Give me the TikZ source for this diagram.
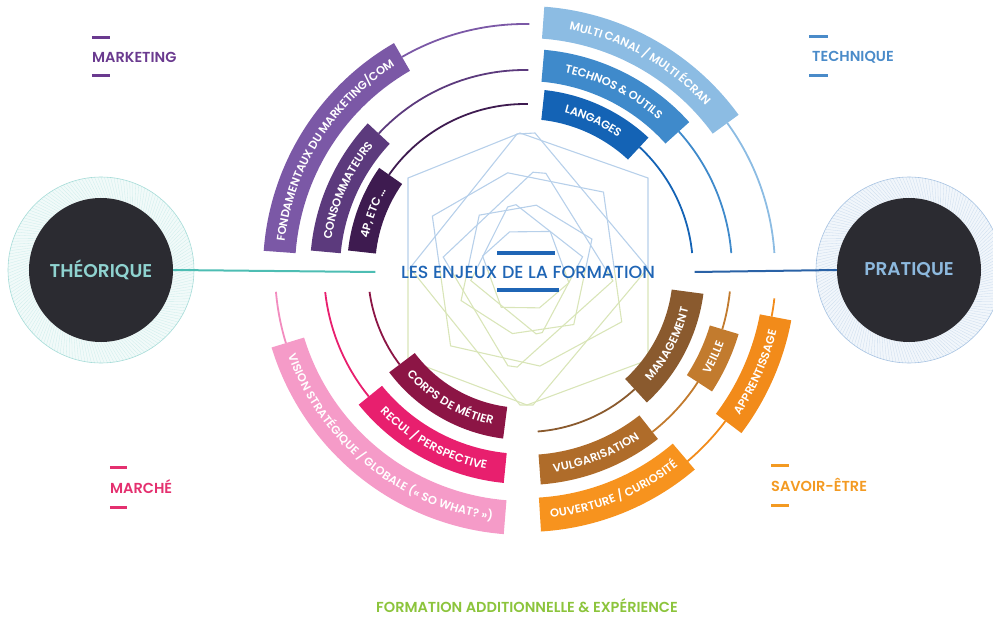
\documentclass[tikz,border=0pt]{standalone}
\usepackage{fontspec}
\setmainfont{Poppins}
\IfFontExistsTF{Poppins Medium}
  {\newfontfamily\medfont{Poppins Medium}}
  {\newcommand{\medfont}{\bfseries}}
\IfFontExistsTF{Poppins SemiBold}
  {\newfontfamily\semifont{Poppins SemiBold}}
  {\newcommand{\semifont}{\bfseries}}
\usetikzlibrary{calc,decorations.text,positioning}

\definecolor{mkA}{HTML}{7B58A6}
\definecolor{mkB}{HTML}{5C3A7D}
\definecolor{mkC}{HTML}{3E1B50}
\definecolor{mkT}{HTML}{6A3A8F}
\definecolor{teA}{HTML}{8CBCE3}
\definecolor{teB}{HTML}{3F8ACB}
\definecolor{teC}{HTML}{1463B5}
\definecolor{teT}{HTML}{4A8BC9}
\definecolor{maA}{HTML}{F59BC8}
\definecolor{maL}{HTML}{F28CBF}
\definecolor{maB}{HTML}{E81F6E}
\definecolor{maC}{HTML}{8C1545}
\definecolor{maT}{HTML}{E4306F}
\definecolor{svA}{HTML}{8A5A2E}
\definecolor{svB}{HTML}{C27B2E}
\definecolor{svC}{HTML}{AF6C2A}
\definecolor{svD}{HTML}{F28B1A}
\definecolor{svE}{HTML}{F7931E}
\definecolor{svT}{HTML}{F39A22}
\definecolor{addT}{HTML}{8CC43C}
\definecolor{titleT}{HTML}{1F65B5}
\definecolor{hexblue}{HTML}{B7D0EA}
\definecolor{hexgreen}{HTML}{D9E5B8}
\definecolor{poleFill}{HTML}{2B2B31}
\definecolor{theoT}{HTML}{8FD3D0}
\definecolor{theoRing}{HTML}{F1FAF9}
\definecolor{theoHatch}{HTML}{CDEDEB}
\definecolor{theoEdge}{HTML}{A6DCD8}
\definecolor{theoLine}{HTML}{4DBDB3}
\definecolor{pratT}{HTML}{8DB9DE}
\definecolor{pratRing}{HTML}{F1F6FB}
\definecolor{pratHatch}{HTML}{CCDCEE}
\definecolor{pratEdge}{HTML}{A7C3E2}
\definecolor{pratLine}{HTML}{2A62A6}

\newcommand{\bandfont}{\semifont\fontsize{11.5}{11.5}\selectfont}

% band of a ring: radius, width, from, to, colour, text
\newcommand{\ringband}[6]{%
  \fill[#5] ({#3}:{#1pt+#2pt/2}) arc[start angle=#3, end angle=#4, radius=#1pt+#2pt/2]
    -- ({#4}:{#1pt-#2pt/2}) arc[start angle=#4, end angle=#3, radius=#1pt-#2pt/2] -- cycle;
  \path[decorate, decoration={text along path, raise=-4pt, text align=center,
    text color=white, text={|\bandfont|#6}}]
    ({#3}:{#1pt}) arc[start angle=#3, end angle=#4, radius=#1pt];
}
% thin ring line: radius, from, to, colour
\newcommand{\ringline}[4]{%
  \draw[thinring, #4] ({#2}:{#1pt}) arc[start angle=#2, end angle=#3, radius=#1pt];
}
% hexagons behind the title
\newcommand{\hexcluster}[1]{%
  \foreach \s/\r in {1/0, 0.72/8, 0.48/-12, 0.3/20} {
    \draw[hexline, #1, scale=\s, rotate=\r]
      (-5,137) -- (123,92) -- (123,-90) -- (2,-135) -- (-117,-90) -- (-117,92) -- cycle;
  }
  \foreach \s/\r in {1/0, 0.72/-8, 0.48/12} {
    \draw[hexline, #1, scale=\s, rotate=\r]
      (-8,136) -- (10,137) -- (123,2) -- (8,-135) -- (-5,-135) -- (-115,2) -- cycle;
  }
}

\begin{document}
\begin{tikzpicture}[
    x=1pt, y=1pt,
    every node/.style={font=\semifont},
    thinring/.style={line width=1.8pt},
    hexline/.style={line width=1.1pt},
    tagbar/.style={line width=3pt},
    tagtext/.style={
      anchor=west,
      inner sep=0pt,
      font=\semifont\fontsize{14.5}{14.5}\selectfont
    },
    pole/.style={
      circle,
      fill=poleFill,
      minimum size=144pt,
      inner sep=0pt,
      font=\semifont\fontsize{18.5}{18.5}\selectfont
    }
  ]

  \useasboundingbox (-525,-354) rectangle (468,270);
  \clip (-525,-354) rectangle (468,270);

  % Hexagons
  \begin{scope}
    \clip (-200,0) rectangle (200,200);
    \hexcluster{hexblue}
  \end{scope}
  \begin{scope}
    \clip (-200,0) rectangle (200,-200);
    \hexcluster{hexgreen}
  \end{scope}

  % Thin ring lines
  \ringline{246}{120}{89}{mkA}
  \ringline{200}{137}{89}{mkB}
  \ringline{166}{145}{89}{mkC}
  \ringline{250}{36}{3.9}{teA}
  \ringline{207}{42}{4.7}{teB}
  \ringline{168}{47}{5.8}{teC}
  \ringline{250}{185}{197}{maL}
  \ringline{201}{186.3}{219}{maB}
  \ringline{157}{188}{217}{maC}
  \ringline{162}{-85.5}{-47.4}{svA}
  \ringline{206}{-51.8}{-33}{svB}
  \ringline{206}{-16.7}{-6}{svB}
  \ringline{251}{-49.6}{-37}{svD}
  \ringline{251}{-10.7}{-6.5}{svD}

  % Bands
  \ringband{246}{32}{175.8}{120}{mkA}{FONDAMENTAUX DU MARKETING/COM}
  \ringband{200}{30}{174.8}{137}{mkB}{CONSOMMATEURS}
  \ringband{164}{28}{173.7}{145}{mkC}{4P, ETC …}
  \ringband{248}{32}{85.8}{36}{teA}{MULTI CANAL / MULTI ÉCRAN}
  \ringband{205}{32}{85}{42}{teB}{TECHNOS {\&} OUTILS}
  \ringband{166}{30}{83.8}{47}{teC}{LANGAGES}
  \ringband{248}{34}{197}{265.4}{maA}{VISION STRATÉGIQUE / GLOBALE (« SO WHAT? »)}
  \ringband{199}{30}{219}{264.3}{maB}{RECUL / PERSPECTIVE}
  \ringband{154}{32}{217}{262.6}{maC}{CORPS DE MÉTIER}
  \ringband{164}{32}{-47.4}{-7.6}{svA}{MANAGEMENT}
  \ringband{208}{30}{-33}{-16.7}{svB}{VEILLE}
  \ringband{200}{30}{-85.8}{-51.8}{svC}{VULGARISATION}
  \ringband{255}{32}{-37}{-10.7}{svD}{APPRENTISSAGE}
  \ringband{245}{34}{-86.5}{-49.6}{svE}{OUVERTURE / CURIOSITÉ}

  % Poles
  \begin{scope}[shift={(-424,0)}]
    \fill[theoRing] (0,0) circle[radius=93pt];
    \foreach \a in {0,2,...,358}
      \draw[theoHatch, line width=0.3pt] (\a:72pt) -- (\a+6:93pt);
    \draw[theoEdge, line width=0.6pt] (0,0) circle[radius=93pt];
  \end{scope}
  \begin{scope}[shift={(384,0)}]
    \fill[pratRing] (0,0) circle[radius=93pt];
    \foreach \a in {0,2,...,358}
      \draw[pratHatch, line width=0.3pt] (\a:72pt) -- (\a+6:93pt);
    \draw[pratEdge, line width=0.6pt] (0,0) circle[radius=93pt];
  \end{scope}
  \node[pole, text=theoT] (theo) at (-424,0) {THÉORIQUE};
  \node[pole, text=pratT] (prat) at (384,0) {PRATIQUE};

  % Title
  \node[
    text=titleT,
    font=\medfont\fontsize{17.5}{17.5}\selectfont
  ] (title) at (3,-2) {LES ENJEUX DE LA FORMATION};
  \draw[titleT, line width=4pt] ($(title.center)+(-31,19)$) -- ++(58,0);
  \draw[titleT, line width=4pt] ($(title.center)+(-31,-18)$) -- ++(62,0);

  % Connecting lines
  \draw[theoLine, line width=2pt] (theo.east) -- ([xshift=-22pt]title.west);
  \draw[pratLine, line width=2pt] ([xshift=36pt]title.east) -- (prat.west);

  % Tags
  \node[tagtext, text=mkT] (marketing) at (-433,213) {MARKETING};
  \draw[tagbar, mkT] ([yshift=19pt]marketing.west) -- ++(18,0);
  \draw[tagbar, mkT] ([yshift=-19pt]marketing.west) -- ++(18,0);
  \node[tagtext, text=teT] (technique) at (287,213) {TECHNIQUE};
  \draw[tagbar, teT] ([xshift=-3pt, yshift=20pt]technique.west) -- ++(19,0);
  \draw[tagbar, teT] ([xshift=-3pt, yshift=-19pt]technique.west) -- ++(19,0);
  \node[tagtext, text=maT] (marche) at (-415,-217) {MARCHÉ};
  \draw[tagbar, maT] ([yshift=20pt]marche.west) -- ++(17,0);
  \draw[tagbar, maT] ([yshift=-20pt]marche.west) -- ++(17,0);
  \node[tagtext, text=svT] (savoir) at (246,-215) {SAVOIR-ÊTRE};
  \draw[tagbar, svT] ([yshift=20pt]savoir.west) -- ++(18,0);
  \draw[tagbar, svT] ([yshift=-20pt]savoir.west) -- ++(18,0);

  \node[
    text=addT,
    font=\semifont\fontsize{14.5}{14.5}\selectfont
  ] (extra) at (2,-336) {FORMATION ADDITIONNELLE \& EXPÉRIENCE};

\end{tikzpicture}
\end{document}
